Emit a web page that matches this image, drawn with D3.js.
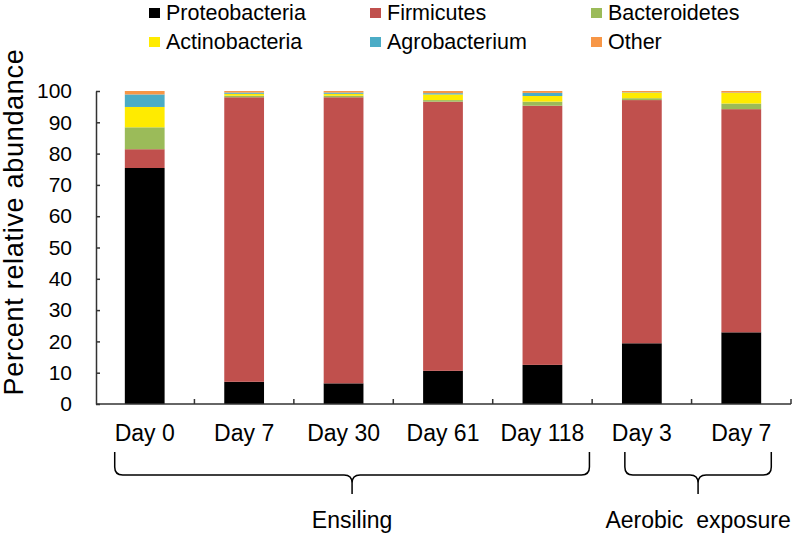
<!DOCTYPE html>
<html>
<head>
<meta charset="utf-8">
<script src="https://cdn.jsdelivr.net/npm/d3@7/dist/d3.min.js"></script>
<style>
  html, body { margin: 0; padding: 0; background: #fff; }
  svg { display: block; font-family: "Liberation Sans", Arial, sans-serif; }
</style>
</head>
<body>
<svg id="chart" width="800" height="535"></svg>
<script>
// ---------- data ----------
const categories = ["Day 0", "Day 7", "Day 30", "Day 61", "Day 118", "Day 3", "Day 7 "];
const categoryLabels = ["Day 0", "Day 7", "Day 30", "Day 61", "Day 118", "Day 3", "Day 7"];
const seriesNames = ["Proteobacteria", "Firmicutes", "Bacteroidetes", "Actinobacteria", "Agrobacterium", "Other"];
const proteobacteria = [75.4, 7.1, 6.6, 10.6, 12.5, 19.4, 22.9];
const firmicutes     = [6.0, 90.9, 91.4, 86.0, 82.8, 77.7, 71.3];
const bacteroidetes  = [7.0, 0.5, 0.5, 0.5, 1.3, 0.6, 1.8];
const actinobacteria = [6.5, 0.6, 0.6, 1.8, 1.8, 1.8, 3.4];
const agrobacterium  = [4.0, 0.4, 0.4, 0.4, 1.0, 0.1, 0.1];
const other          = [1.1, 0.5, 0.5, 0.7, 0.6, 0.4, 0.5];
const yTicks = [0, 10, 20, 30, 40, 50, 60, 70, 80, 90, 100];
const groups = [
  { label: "Ensiling", first: 0, last: 4 },
  { label: "Aerobic  exposure", first: 5, last: 6 }
];
const colors = ["#000000", "#C0504D", "#9BBB59", "#FFEB00", "#4BACC6", "#F79646"];

// ---------- build table ----------
const seriesValues = [proteobacteria, firmicutes, bacteroidetes, actinobacteria, agrobacterium, other];
const table = categories.map((c, i) => {
  const row = { cat: c };
  seriesNames.forEach((s, j) => row[s] = seriesValues[j][i]);
  return row;
});

const svg = d3.select("#chart");
const plotLeft = 96, plotRight = 791, plotTop = 91, plotBottom = 404;

const x = d3.scaleBand().domain(categories).range([95, plotRight]).paddingInner(0.6).paddingOuter(0.3);
const y = d3.scaleLinear().domain([0, 100]).range([plotBottom, plotTop]);
const color = d3.scaleOrdinal().domain(seriesNames).range(colors);

const stacked = d3.stack().keys(seriesNames)(table);

// bars
svg.append("g").selectAll("g").data(stacked).join("g")
  .attr("fill", d => color(d.key))
  .selectAll("rect").data(d => d).join("rect")
  .attr("x", d => x(d.data.cat))
  .attr("width", x.bandwidth())
  .attr("y", d => y(d[1]))
  .attr("height", d => Math.max(0, y(d[0]) - y(d[1])));

// y axis
const yAxis = svg.append("g").attr("transform", `translate(${plotLeft},0)`)
  .call(d3.axisLeft(y).tickValues(yTicks).tickSize(-4).tickPadding(24).tickSizeOuter(0));
yAxis.select(".domain").attr("stroke", "#333").attr("stroke-width", 1.5);
yAxis.selectAll(".tick line").attr("stroke", "#333").attr("stroke-width", 1.5);
yAxis.selectAll(".tick text").attr("font-size", 21).attr("fill", "#000")
  .attr("font-family", "Liberation Sans, Arial, sans-serif");

// x axis
const step = x.step();
const xa = svg.append("g");
xa.append("line").attr("x1", plotLeft).attr("x2", plotRight).attr("y1", plotBottom).attr("y2", plotBottom)
  .attr("stroke", "#333").attr("stroke-width", 1.5);
xa.selectAll("line.tk").data(categories).join("line").attr("class", "tk")
  .attr("x1", d => x(d) + x.bandwidth() / 2 + step / 2)
  .attr("x2", d => x(d) + x.bandwidth() / 2 + step / 2)
  .attr("y1", plotBottom).attr("y2", plotBottom - 5)
  .attr("stroke", "#333").attr("stroke-width", 1.5);
xa.selectAll("text").data(categories).join("text")
  .attr("x", d => x(d) + x.bandwidth() / 2)
  .attr("y", 441)
  .attr("text-anchor", "middle")
  .attr("font-size", 23)
  .text((d, i) => categoryLabels[i]);

// y title
svg.append("text")
  .attr("transform", "translate(23,222) rotate(-90)")
  .attr("text-anchor", "middle")
  .attr("font-size", 27)
  .attr("letter-spacing", 0.7)
  .text("Percent relative abundance");

// braces
const cx = i => x(categories[i]) + x.bandwidth() / 2;
const braceSpec = [
  { g: groups[0], l: cx(0) - 30, r: cx(4) + 47 },
  { g: groups[1], l: cx(5) - 17, r: cx(6) + 30 }
];
const bTop = 452, bH = 475, bBot = 494, rr = 8;
braceSpec.forEach(b => {
  const mid = (b.l + b.r) / 2;
  const p = d3.path();
  p.moveTo(b.l, bTop);
  p.lineTo(b.l, bH - rr);
  p.quadraticCurveTo(b.l, bH, b.l + rr, bH);
  p.lineTo(mid - rr, bH);
  p.quadraticCurveTo(mid, bH, mid, bH + rr);
  p.lineTo(mid, bBot);
  p.moveTo(mid, bH + rr);
  p.quadraticCurveTo(mid, bH, mid + rr, bH);
  p.lineTo(b.r - rr, bH);
  p.quadraticCurveTo(b.r, bH, b.r, bH - rr);
  p.lineTo(b.r, bTop);
  svg.append("path").attr("d", p.toString()).attr("fill", "none")
    .attr("stroke", "#000").attr("stroke-width", 1.5);
  svg.append("text").attr("x", mid).attr("y", 528).attr("text-anchor", "middle")
    .attr("font-size", 23).style("white-space", "pre")
    .text(b.g.label);
});

// legend
const legendPos = [
  { x: 149, y: 8 }, { x: 370, y: 8 }, { x: 591, y: 8 },
  { x: 149, y: 37 }, { x: 370, y: 37 }, { x: 591, y: 37 }
];
const lg = svg.append("g").selectAll("g").data(seriesNames).join("g")
  .attr("transform", (d, i) => `translate(${legendPos[i].x},${legendPos[i].y})`);
lg.append("rect").attr("width", 11).attr("height", 10).attr("fill", d => color(d));
lg.append("text").attr("x", 17).attr("y", 12).attr("font-size", 21.5).text(d => d);
</script>
</body>
</html>
